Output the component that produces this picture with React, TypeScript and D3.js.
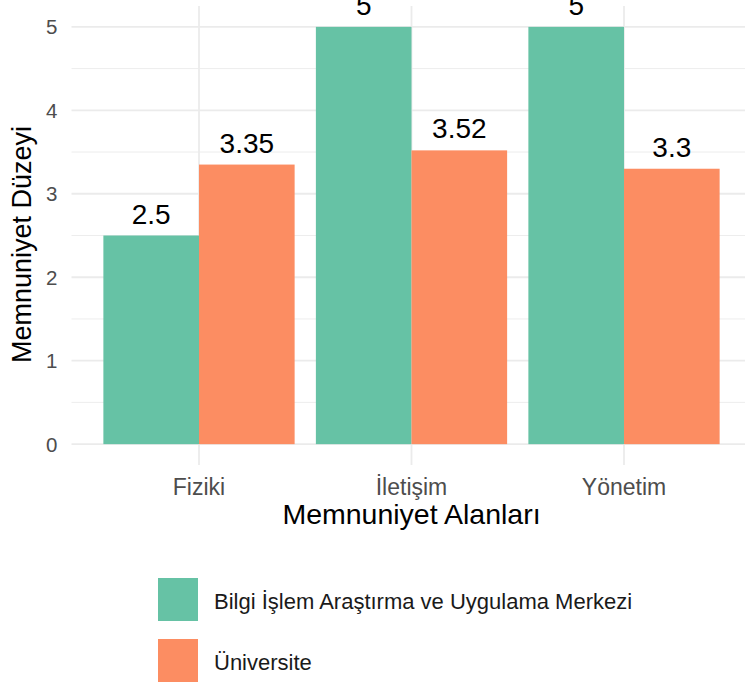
import React from 'react';
import * as d3 from 'd3';

const categories = ['Fiziki', 'İletişim', 'Yönetim'];
const seriesNames = ['Bilgi İşlem Araştırma ve Uygulama Merkezi', 'Üniversite'];
const merkezValues = [2.5, 5, 5];
const universiteValues = [3.35, 3.52, 3.3];
const yTicks = [0, 1, 2, 3, 4, 5];
const yMinorTicks = [0.5, 1.5, 2.5, 3.5, 4.5];
const colors = ['#66c2a5', '#fc8d62'];

const W = 745;
const H = 686;
const FONT = '"Liberation Sans", Arial, sans-serif';

const App: React.FC = () => {
  // panel box (the original picture is cropped, so the panel runs past the right edge)
  const left = 71.5, right = 751.5, top = 6, bottom = 465;

  const x = d3.scaleBand<string>()
    .domain(categories)
    .range([left, right])
    .paddingInner(0.1)
    .paddingOuter(0.15);

  const xInner = d3.scaleBand<string>()
    .domain(seriesNames)
    .range([0, x.bandwidth()]);

  const y = d3.scaleLinear()
    .domain([-0.25, 5.25])
    .range([bottom, top]);

  const rows = categories.map((c, i) => ({
    cat: c,
    vals: [merkezValues[i], universiteValues[i]],
  }));

  const center = (c: string) => (x(c) ?? 0) + x.bandwidth() / 2;

  return (
    <svg width={W} height={H} style={{ position: 'absolute', left: 0, top: 0, background: '#fff' }} fontFamily={FONT}>
      {/* minor grid */}
      {yMinorTicks.map(t => (
        <line key={'m' + t} x1={left} x2={right} y1={y(t)} y2={y(t)} stroke="#ebebeb" strokeWidth={0.9} />
      ))}
      {/* major grid */}
      {yTicks.map(t => (
        <line key={'g' + t} x1={left} x2={right} y1={y(t)} y2={y(t)} stroke="#ebebeb" strokeWidth={1.8} />
      ))}
      {categories.map(c => (
        <line key={'v' + c} x1={center(c)} x2={center(c)} y1={top} y2={bottom} stroke="#ebebeb" strokeWidth={1.8} />
      ))}

      {/* bars */}
      {rows.map(r => (
        <g key={r.cat} transform={`translate(${x(r.cat)},0)`}>
          {r.vals.map((v, j) => (
            <rect
              key={j}
              x={xInner(seriesNames[j])}
              width={xInner.bandwidth()}
              y={y(v)}
              height={y(0) - y(v)}
              fill={colors[j]}
            />
          ))}
          {r.vals.map((v, j) => (
            <text
              key={'t' + j}
              x={(xInner(seriesNames[j]) ?? 0) + xInner.bandwidth() / 2}
              y={y(v) - 12}
              textAnchor="middle"
              fontSize={28}
              fill="#000"
            >
              {String(v)}
            </text>
          ))}
        </g>
      ))}

      {/* y axis labels */}
      {yTicks.map(t => (
        <text key={'yt' + t} x={57.5} y={y(t)} dy="0.36em" textAnchor="end" fontSize={20.5} fill="#4d4d4d">
          {t}
        </text>
      ))}
      {/* x axis labels */}
      {categories.map(c => (
        <text key={'xt' + c} x={center(c)} y={495} textAnchor="middle" fontSize={23} fill="#4d4d4d">
          {c}
        </text>
      ))}

      {/* axis titles */}
      <text x={(left + right) / 2} y={524} textAnchor="middle" fontSize={28.5} fill="#000">
        Memnuniyet Alanları
      </text>
      <text
        transform={`translate(31,${(top + bottom) / 2 + 9}) rotate(-90)`}
        textAnchor="middle"
        fontSize={27}
        fill="#000"
      >
        Memnuniyet Düzeyi
      </text>

      {/* legend */}
      {seriesNames.map((s, i) => (
        <g key={'lg' + s} transform={`translate(158,${578 + i * 61})`}>
          <rect width={40} height={43} fill={colors[i]} />
          <text x={56} y={31} fontSize={22} fill="#1a1a1a">{s}</text>
        </g>
      ))}
    </svg>
  );
};

export default App;
